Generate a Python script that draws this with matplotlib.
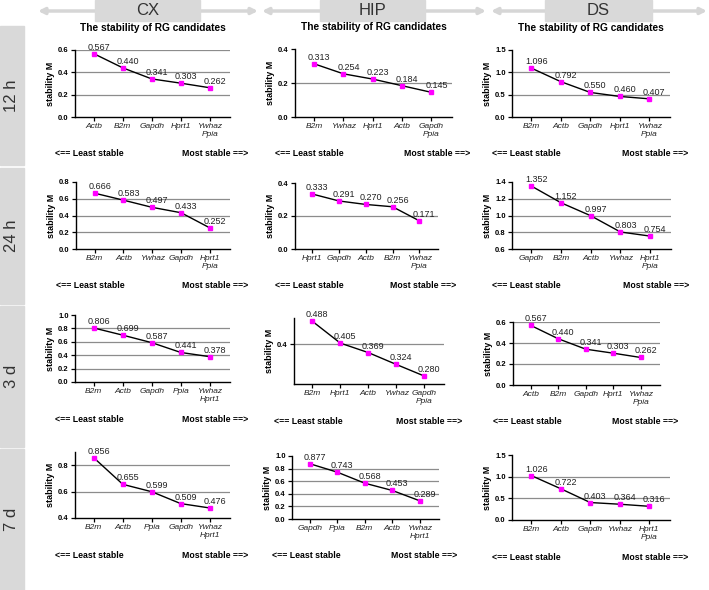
import matplotlib.pyplot as plt
from matplotlib.patches import Rectangle

plt.rcParams['font.family'] = ['Liberation Sans', 'DejaVu Sans']

tissues = ['CX', 'HIP', 'DS']
times = ['12 h', '24 h', '3 d', '7 d']

# genes ordered least -> most stable, with stability M values
genes_12h_cx = ['Actb', 'B2m', 'Gapdh', 'Hprt1', 'Ywhaz\nPpia']
m_12h_cx = [0.567, 0.440, 0.341, 0.303, 0.262]
genes_12h_hip = ['B2m', 'Ywhaz', 'Hprt1', 'Actb', 'Gapdh\nPpia']
m_12h_hip = [0.313, 0.254, 0.223, 0.184, 0.145]
genes_12h_ds = ['B2m', 'Actb', 'Gapdh', 'Hprt1', 'Ywhaz\nPpia']
m_12h_ds = [1.096, 0.792, 0.550, 0.460, 0.407]

genes_24h_cx = ['B2m', 'Actb', 'Ywhaz', 'Gapdh', 'Hprt1\nPpia']
m_24h_cx = [0.666, 0.583, 0.497, 0.433, 0.252]
genes_24h_hip = ['Hprt1', 'Gapdh', 'Actb', 'B2m', 'Ywhaz\nPpia']
m_24h_hip = [0.333, 0.291, 0.270, 0.256, 0.171]
genes_24h_ds = ['Gapdh', 'B2m', 'Actb', 'Ywhaz', 'Hprt1\nPpia']
m_24h_ds = [1.352, 1.152, 0.997, 0.803, 0.754]

genes_3d_cx = ['B2m', 'Actb', 'Gapdh', 'Ppia', 'Ywhaz\nHprt1']
m_3d_cx = [0.806, 0.699, 0.587, 0.441, 0.378]
genes_3d_hip = ['B2m', 'Hprt1', 'Actb', 'Ywhaz', 'Gapdh\nPpia']
m_3d_hip = [0.488, 0.405, 0.369, 0.324, 0.280]
genes_3d_ds = ['Actb', 'B2m', 'Gapdh', 'Hprt1', 'Ywhaz\nPpia']
m_3d_ds = [0.567, 0.440, 0.341, 0.303, 0.262]

genes_7d_cx = ['B2m', 'Actb', 'Ppia', 'Gapdh', 'Ywhaz\nHprt1']
m_7d_cx = [0.856, 0.655, 0.599, 0.509, 0.476]
genes_7d_hip = ['Gapdh', 'Ppia', 'B2m', 'Actb', 'Ywhaz\nHprt1']
m_7d_hip = [0.877, 0.743, 0.568, 0.453, 0.289]
genes_7d_ds = ['B2m', 'Actb', 'Gapdh', 'Ywhaz', 'Hprt1\nPpia']
m_7d_ds = [1.026, 0.722, 0.403, 0.364, 0.316]

data = [
    [(genes_12h_cx, m_12h_cx), (genes_12h_hip, m_12h_hip), (genes_12h_ds, m_12h_ds)],
    [(genes_24h_cx, m_24h_cx), (genes_24h_hip, m_24h_hip), (genes_24h_ds, m_24h_ds)],
    [(genes_3d_cx, m_3d_cx), (genes_3d_hip, m_3d_hip), (genes_3d_ds, m_3d_ds)],
    [(genes_7d_cx, m_7d_cx), (genes_7d_hip, m_7d_hip), (genes_7d_ds, m_7d_ds)],
]

# axis ranges, ticks and grid lines for each panel
scales = [
    [((0, 0.6), [0, 0.2, 0.4, 0.6], [0.2, 0.4, 0.6]),
     ((0, 0.4), [0, 0.2, 0.4], [0.2]),
     ((0, 1.5), [0, 0.5, 1.0, 1.5], [0.5, 1.0])],
    [((0, 0.8), [0, 0.2, 0.4, 0.6, 0.8], [0.2, 0.4, 0.6]),
     ((0, 0.4), [0, 0.2, 0.4], [0.2]),
     ((0.6, 1.4), [0.6, 0.8, 1.0, 1.2, 1.4], [0.8, 1.0, 1.2])],
    [((0, 1.0), [0, 0.2, 0.4, 0.6, 0.8, 1.0], [0.2, 0.4, 0.6, 0.8]),
     ((0.25, 0.5), [0.4], [0.4]),
     ((0, 0.6), [0, 0.2, 0.4, 0.6], [0.2, 0.4, 0.6])],
    [((0.4, 0.9), [0.4, 0.6, 0.8], [0.6, 0.8]),
     ((0, 1.0), [0, 0.2, 0.4, 0.6, 0.8, 1.0], [0.2, 0.4, 0.6, 0.8]),
     ((0, 1.5), [0, 0.5, 1.0, 1.5], [0.5, 1.0])],
]

# panel boxes in pixels: left, right, top, bottom
boxes = [
    [(75, 230, 50, 117), (295, 452, 49, 117), (512, 670, 50, 117)],
    [(76, 230, 182, 249), (295, 438, 183, 249), (512, 671, 182, 249)],
    [(75, 230, 315, 382), (294, 444, 318, 384), (513, 660, 322, 385)],
    [(75, 230, 452, 518), (292, 439, 456, 519), (512, 670, 455, 520)],
]

W, H = 709, 590
fig = plt.figure(figsize=(W / 100, H / 100), dpi=100)

# background decorations (headers, row strips)
bg = fig.add_axes([0, 0, 1, 1], zorder=0)
bg.set_xlim(0, W)
bg.set_ylim(H, 0)
bg.axis('off')

arrows = [(38, 258), (262, 486), (491, 707)]
head_boxes = [(95, 200), (320, 425), (545, 652)]
for name, (a0, a1), (b0, b1) in zip(tissues, arrows, head_boxes):
    bg.annotate('', xy=(a0, 11), xytext=(a1, 11),
                arrowprops=dict(arrowstyle='<|-|>', color='#d6d6d6', lw=2.5,
                                mutation_scale=9, shrinkA=0, shrinkB=0))
    bg.add_patch(Rectangle((b0, 0), b1 - b0, 21, color='#d9d9d9', zorder=3))
    bg.text((b0 + b1) / 2, 10.5, name, ha='center', va='center', fontsize=12,
            color='#333333', zorder=4)

bands = [(26, 165), (168, 304), (306, 447), (449, 590)]
for label, (t0, t1) in zip(times, bands):
    bg.add_patch(Rectangle((0, t0), 24, t1 - t0, color='#d9d9d9'))
    bg.text(12, (t0 + t1) / 2, label, rotation=90, ha='center', va='center',
            fontsize=12, color='#333333')

for r in range(4):
    for c in range(3):
        genes, vals = data[r][c]
        (ylo, yhi), ticks, grid = scales[r][c]
        l, rr, t, b = boxes[r][c]
        ax = fig.add_axes([l / W, 1 - b / H, (rr - l) / W, (b - t) / H], zorder=2)
        ax.patch.set_alpha(0)
        x = list(range(len(genes)))
        for g in grid:
            ax.axhline(g, color='#8c8c8c', lw=0.9, zorder=1)
        ax.plot(x, vals, color='black', lw=1.0, zorder=2)
        ax.plot(x, vals, 's', color='#ff00ff', ms=2.8, zorder=3)
        for xi, v in zip(x, vals):
            ax.annotate(f'{v:.3f}', (xi, v), xytext=(5, 2), textcoords='offset pixels',
                        ha='center', va='bottom', fontsize=6.5, color='#222222', zorder=4)
        ax.set_xlim(-0.65, 4.7)
        ax.set_ylim(ylo, yhi)
        ax.set_yticks(ticks)
        ax.set_yticklabels([f'{tk:.1f}' for tk in ticks], fontsize=5.5, fontweight='bold')
        ax.set_xticks(x)
        ax.set_xticklabels(genes, fontsize=6, style='italic', color='#222222')
        ax.tick_params(axis='both', length=3, width=0.9, pad=1.5, direction='out')
        for s in ['top', 'right']:
            ax.spines[s].set_visible(False)
        for s in ['left', 'bottom']:
            ax.spines[s].set_linewidth(1.0)
        ax.set_ylabel('stability M', fontsize=6.5, fontweight='bold', labelpad=2)
        ax.annotate('<== Least stable', (0, 0), xycoords='axes fraction',
                    xytext=(-20, -37), textcoords='offset pixels',
                    ha='left', va='center', fontsize=6.3, fontweight='bold')
        ax.annotate('Most stable ==>', (1, 0), xycoords='axes fraction',
                    xytext=(18, -37), textcoords='offset pixels',
                    ha='right', va='center', fontsize=6.3, fontweight='bold')
        if r == 0:
            ax.annotate('The stability of RG candidates', (0.5, 1), xycoords='axes fraction',
                        xytext=(0, 22), textcoords='offset pixels',
                        ha='center', va='center', fontsize=7.3, fontweight='bold')

fig.savefig('out.png', dpi=100)
